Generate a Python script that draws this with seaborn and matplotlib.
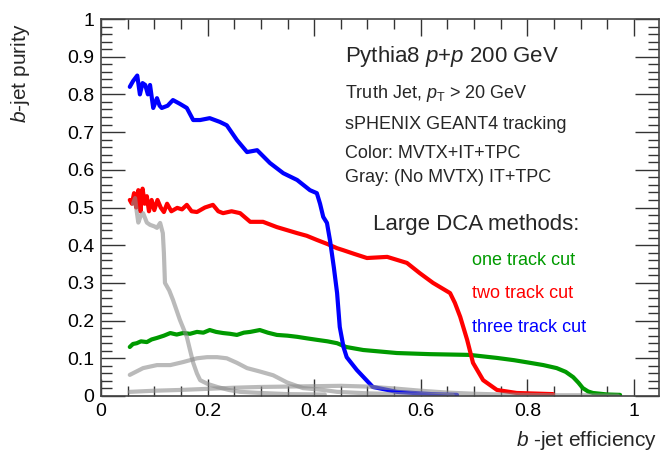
import numpy as np
import pandas as pd
import seaborn as sns
import matplotlib.pyplot as plt
from matplotlib.ticker import MultipleLocator

# --- Data (b-jet efficiency vs purity) ---
# three track cut (MVTX+IT+TPC)
blue_x = [0.054, 0.060, 0.068, 0.073, 0.078, 0.083, 0.088, 0.092, 0.098, 0.105, 0.110, 0.114,
          0.125, 0.135, 0.148, 0.161, 0.173, 0.186, 0.204, 0.223, 0.236, 0.255, 0.274, 0.293,
          0.317, 0.342, 0.368, 0.392, 0.405, 0.411, 0.417, 0.424, 0.430, 0.437, 0.443, 0.448,
          0.455, 0.461, 0.480, 0.510, 0.555, 0.620, 0.668]
blue_y = [0.82, 0.835, 0.85, 0.80, 0.83, 0.825, 0.80, 0.825, 0.764, 0.79, 0.77, 0.764,
          0.77, 0.785, 0.775, 0.764, 0.732, 0.732, 0.737, 0.727, 0.718, 0.679, 0.647, 0.652,
          0.618, 0.591, 0.573, 0.546, 0.538, 0.51, 0.475, 0.459, 0.41, 0.34, 0.273, 0.183,
          0.13, 0.103, 0.069, 0.024, 0.011, 0.005, 0.003]

# two track cut
red_x = [0.054, 0.058, 0.062, 0.066, 0.070, 0.074, 0.078, 0.082, 0.086, 0.090, 0.095, 0.100,
         0.106, 0.112, 0.118, 0.124, 0.132, 0.143, 0.152, 0.161, 0.170, 0.180, 0.195, 0.210,
         0.220, 0.229, 0.245, 0.261, 0.280, 0.304, 0.330, 0.349, 0.368, 0.386, 0.405, 0.425,
         0.443, 0.454, 0.475, 0.499, 0.537, 0.574, 0.598, 0.623, 0.655, 0.664, 0.674, 0.687,
         0.698, 0.717, 0.743, 0.780, 0.848]
red_y = [0.52, 0.51, 0.538, 0.50, 0.546, 0.49, 0.55, 0.51, 0.53, 0.49, 0.52, 0.493,
         0.52, 0.50, 0.488, 0.51, 0.49, 0.499, 0.495, 0.507, 0.49, 0.488, 0.50, 0.507,
         0.49, 0.485, 0.49, 0.485, 0.462, 0.462, 0.448, 0.44, 0.432, 0.425, 0.414, 0.403,
         0.392, 0.387, 0.377, 0.366, 0.369, 0.353, 0.326, 0.30, 0.273, 0.247, 0.21, 0.149,
         0.088, 0.042, 0.016, 0.008, 0.005]

# one track cut
green_x = [0.054, 0.060, 0.067, 0.075, 0.086, 0.095, 0.105, 0.118, 0.130, 0.142, 0.154, 0.167,
           0.180, 0.192, 0.204, 0.216, 0.229, 0.242, 0.255, 0.268, 0.280, 0.298, 0.313, 0.330,
           0.350, 0.368, 0.386, 0.405, 0.425, 0.443, 0.460, 0.492, 0.555, 0.617, 0.692, 0.743,
           0.775, 0.805, 0.830, 0.855, 0.872, 0.886, 0.896, 0.904, 0.914, 0.923, 0.950, 0.974]
green_y = [0.13, 0.138, 0.14, 0.145, 0.143, 0.15, 0.154, 0.16, 0.167, 0.163, 0.167, 0.165,
           0.17, 0.168, 0.175, 0.17, 0.167, 0.165, 0.162, 0.168, 0.17, 0.175, 0.168, 0.162,
           0.16, 0.157, 0.153, 0.149, 0.145, 0.14, 0.13, 0.122, 0.114, 0.111, 0.109, 0.101,
           0.095, 0.088, 0.082, 0.074, 0.064, 0.05, 0.035, 0.021, 0.012, 0.008, 0.004, 0.003]

# gray: (No MVTX) IT+TPC
gray_a_x = [0.060, 0.064, 0.067, 0.070, 0.075, 0.079, 0.086, 0.092, 0.100, 0.105, 0.111, 0.116,
            0.118, 0.120, 0.128, 0.135, 0.148, 0.161, 0.167, 0.173, 0.180, 0.186, 0.200, 0.218,
            0.240, 0.261, 0.300, 0.350, 0.420]
gray_a_y = [0.51, 0.525, 0.49, 0.46, 0.48, 0.485, 0.46, 0.454, 0.45, 0.446, 0.459, 0.432,
            0.38, 0.30, 0.28, 0.255, 0.202, 0.157, 0.122, 0.088, 0.06, 0.042, 0.032, 0.024,
            0.016, 0.011, 0.008, 0.005, 0.004]

gray_b_x = [0.054, 0.079, 0.105, 0.130, 0.154, 0.180, 0.199, 0.218, 0.236, 0.255, 0.274, 0.298,
            0.323, 0.349, 0.379, 0.417, 0.443, 0.500, 0.560, 0.620, 0.660]
gray_b_y = [0.056, 0.074, 0.082, 0.082, 0.09, 0.1, 0.103, 0.103, 0.1, 0.088, 0.074, 0.065,
            0.055, 0.036, 0.021, 0.016, 0.011, 0.007, 0.005, 0.003, 0.002]

gray_c_x = [0.054, 0.10, 0.148, 0.20, 0.25, 0.30, 0.35, 0.40, 0.45, 0.50, 0.55, 0.60, 0.65,
            0.70, 0.75, 0.80, 0.85, 0.90, 0.97]
gray_c_y = [0.011, 0.014, 0.016, 0.019, 0.022, 0.024, 0.025, 0.026, 0.027, 0.025, 0.02, 0.014,
            0.009, 0.006, 0.004, 0.003, 0.002, 0.002, 0.001]

x_ticks = [0, 0.2, 0.4, 0.6, 0.8, 1]
x_tick_labels = ["0", "0.2", "0.4", "0.6", "0.8", "1"]
y_ticks = [0, 0.1, 0.2, 0.3, 0.4, 0.5, 0.6, 0.7, 0.8, 0.9, 1]
y_tick_labels = ["0", "0.1", "0.2", "0.3", "0.4", "0.5", "0.6", "0.7", "0.8", "0.9", "1"]

# --- Style ---
sns.set_theme(style="ticks")
plt.rcParams['font.family'] = ['Liberation Sans', 'DejaVu Sans']
plt.rcParams['mathtext.fontset'] = 'custom'
plt.rcParams['mathtext.rm'] = 'Liberation Sans'
plt.rcParams['mathtext.it'] = 'Liberation Sans:italic'

W, H = 661, 462
fig = plt.figure(figsize=(W / 100, H / 100), dpi=100)
ax = fig.add_axes([101 / W, 1 - 396 / H, (659 - 101) / W, (396 - 19) / H])

lw = 3.0
for xs, ys, c in [(green_x, green_y, "#009a00"), (red_x, red_y, "#ff0000"), (blue_x, blue_y, "#0000ff")]:
    sns.lineplot(x=xs, y=ys, sort=False, estimator=None, color=c, lw=lw, ax=ax)
for xs, ys in [(gray_a_x, gray_a_y), (gray_b_x, gray_b_y), (gray_c_x, gray_c_y)]:
    sns.lineplot(x=xs, y=ys, sort=False, estimator=None, color="#8c8c8c", lw=lw, alpha=0.6, ax=ax)

ax.set_xlim(0, 1.047)
ax.set_ylim(0, 1)
ax.set_xticks(x_ticks)
ax.set_xticklabels(x_tick_labels)
ax.set_yticks(y_ticks)
ax.set_yticklabels(y_tick_labels)
ax.xaxis.set_minor_locator(MultipleLocator(0.05))
ax.yaxis.set_minor_locator(MultipleLocator(0.02))
ax.tick_params(which="both", direction="in", top=True, right=True, width=1, color="#333333",
               labelsize=14, labelcolor="black")
ax.tick_params(axis="x", which="major", length=12, pad=5)
ax.tick_params(axis="x", which="minor", length=7)
ax.tick_params(axis="y", which="major", length=17, pad=5)
ax.tick_params(axis="y", which="minor", length=8)
for s in ax.spines.values():
    s.set_linewidth(1.2)
    s.set_color("#444444")

# --- Labels (ROOT style) ---
def fx(px):
    return px / W

def fy(py):
    return 1 - py / H

fig.text(fx(657), fy(446), "$b$ -jet efficiency", ha="right", va="baseline", fontsize=15)
fig.text(fx(21), fy(123), "$b$-jet purity", ha="center", va="bottom", rotation=90, fontsize=15)

fig.text(fx(345), fy(62), "Pythia8 $p$+$p$ 200 GeV", fontsize=16, va="baseline")
fig.text(fx(345), fy(98), "Truth Jet, $p_{\\mathrm{T}}$ > 20 GeV", fontsize=13, va="baseline")
fig.text(fx(345), fy(129), "sPHENIX GEANT4 tracking", fontsize=13, va="baseline")
fig.text(fx(345), fy(158), "Color: MVTX+IT+TPC", fontsize=13, va="baseline")
fig.text(fx(345), fy(182), "Gray: (No MVTX) IT+TPC", fontsize=13, va="baseline")
fig.text(fx(373), fy(230), "Large DCA methods:", fontsize=16, va="baseline")
fig.text(fx(472), fy(265), "one track cut", fontsize=13, va="baseline", color="#009a00")
fig.text(fx(472), fy(298), "two track cut", fontsize=13, va="baseline", color="#ff0000")
fig.text(fx(472), fy(332), "three track cut", fontsize=13, va="baseline", color="#0000ff")

fig.savefig("out.png", dpi=100)
